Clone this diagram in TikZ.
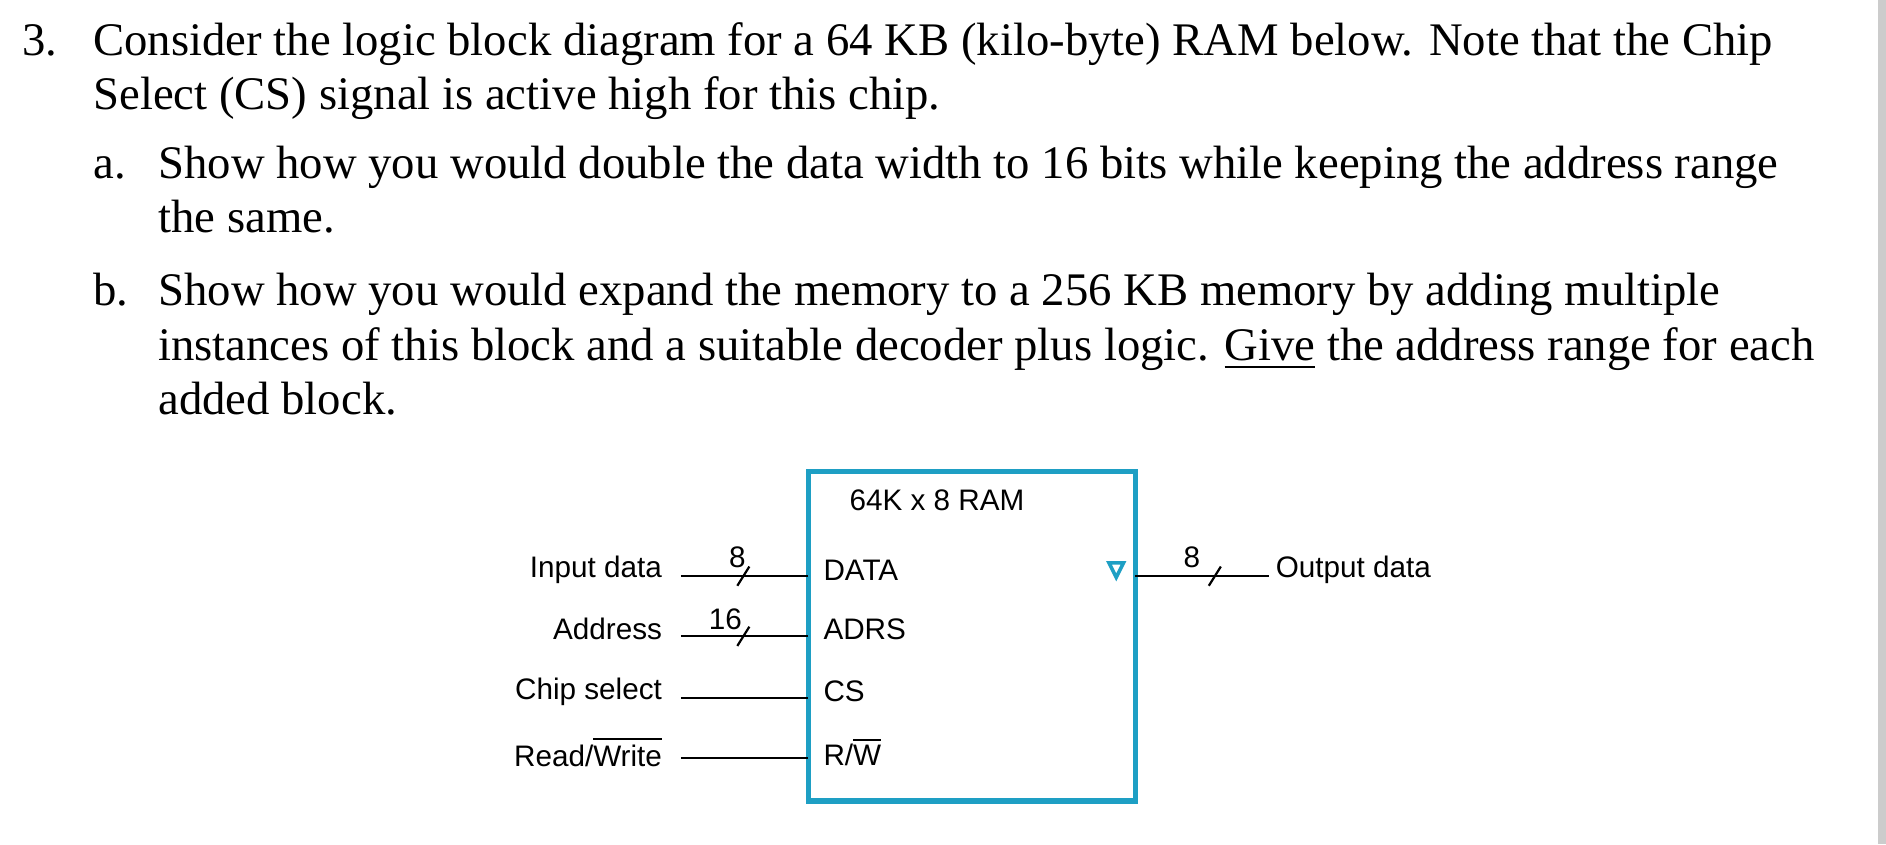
\documentclass[tikz,border=0pt]{standalone}
\usepackage{fontspec}
\setmainfont{Liberation Serif}
\newfontfamily\dsans{Liberation Sans}
\definecolor{ramc}{HTML}{1E9FC4}
\begin{document}
\begin{tikzpicture}[x=0.3pt,y=-0.3pt,
  q/.style={anchor=base west,inner sep=0pt,font=\fontsize{11.65pt}{13pt}\selectfont},
  lab/.style={inner sep=0pt,font=\dsans\fontsize{7.4pt}{8.5pt}\selectfont},
  wire/.style={line width=0.55pt}]
\useasboundingbox (0,0) rectangle (1568,702);
\fill[gray!40] (1561,0) rectangle (1568,702);
\node[q] (n3) at (18,46) {3.};
\node[q] (l1) at (77,46) {Consider the logic block diagram for a 64 KB (kilo-byte) RAM below. Note that the Chip};
\node[q] (l2) at (77,91) {Select (CS) signal is active high for this chip.};
\node[q] (na) at (77,148) {a.};
\node[q] (a1) at (131,148) {Show how you would double the data width to 16 bits while keeping the address range};
\node[q] (a2) at (131,193) {the same.};
\node[q] (nb) at (77,254) {b.};
\node[q] (b1) at (131,254) {Show how you would expand the memory to a 256 KB memory by adding multiple};
\node[q] (b2) at (131,300) {instances of this block and a suitable decoder plus logic. \underline{Give} the address range for each};
\node[q] (b3) at (131,345) {added block.};
% RAM block
\draw[draw=ramc,line width=1.3pt] (672,392) rectangle (944,666);
\node[lab,anchor=center] (t) at (779,416) {64K x 8 RAM};
\node[lab,anchor=west] (pd) at (684,474) {DATA};
\node[lab,anchor=west] (pa) at (684,523) {ADRS};
\node[lab,anchor=west] (pc) at (684,575) {CS};
\node[lab,anchor=west] (pr) at (684,625) {R/$\overline{\mbox{W}}$};
\node[lab,anchor=east] (ld) at (551,474) {Input data};
\node[lab,anchor=east] (la) at (551,523) {Address};
\node[lab,anchor=east] (lc) at (551,575) {Chip select};
\node[lab,anchor=east] (lr) at (551,625) {Read/$\overline{\mbox{Write}}$};
\coordinate (sd) at (566,479); \coordinate (ed) at (672,479);
\coordinate (sa) at (566,529); \coordinate (ea) at (672,529);
\coordinate (sc) at (566,580); \coordinate (ec) at (672,580);
\coordinate (sr) at (566,630); \coordinate (er) at (672,630);
\draw[wire] (sd) -- (ed); \draw[wire] (sa) -- (ea);
\draw[wire] (sc) -- (ec); \draw[wire] (sr) -- (er);
\draw[wire] (613,487) -- (623,471);
\draw[wire] (613,537) -- (623,521);
\node[lab] (n8) at (613,463) {8};
\node[lab] (n16) at (603,515) {16};
% output
\coordinate (so) at (944,479); \coordinate (eo) at (1055,479);
\draw[wire] (so) -- (eo);
\draw[wire] (1005,487) -- (1015,471);
\node[lab] (o8) at (991,463) {8};
\node[lab,anchor=west] (od) at (1060,474) {Output data};
\draw[draw=ramc,line width=0.9pt] (922,468) -- (934,468) -- (928,480) -- cycle;
\end{tikzpicture}
\end{document}
